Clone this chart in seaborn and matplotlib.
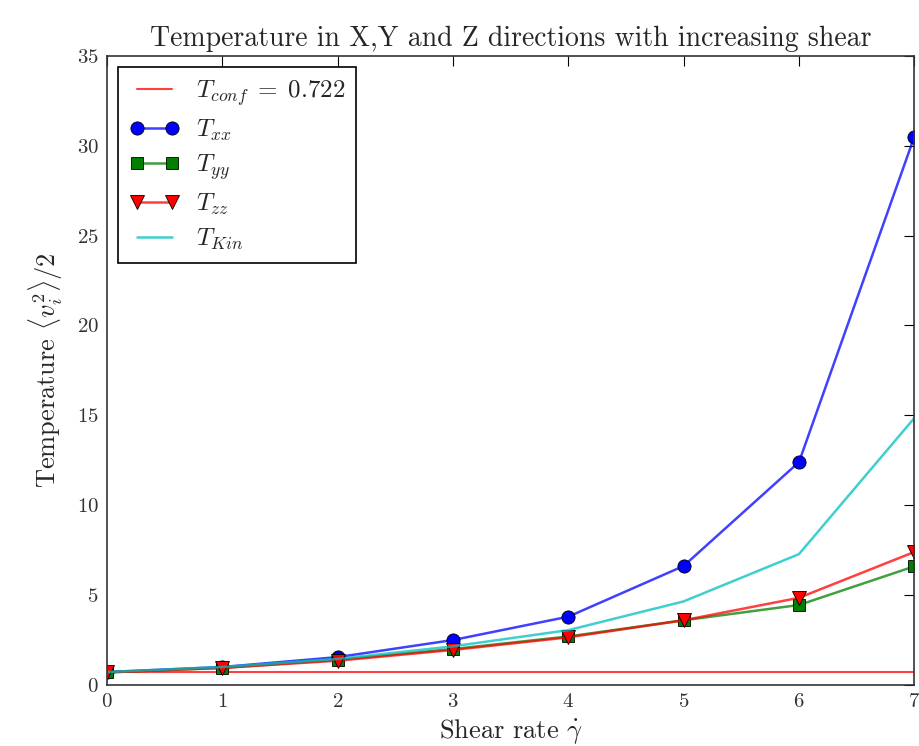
import seaborn as sns
import matplotlib.pyplot as plt

# shear rates and temperature components
shear = [0, 1, 2, 3, 4, 5, 6, 7]
t_conf = 0.722
t_xx = [0.72, 1.0, 1.55, 2.5, 3.8, 6.62, 12.4, 30.5]
t_yy = [0.70, 0.95, 1.40, 2.0, 2.7, 3.6, 4.45, 6.6]
t_zz = [0.70, 0.95, 1.35, 1.95, 2.65, 3.6, 4.85, 7.4]
t_kin = [0.72, 1.0, 1.45, 2.15, 3.05, 4.65, 7.28, 14.85]

sns.set_style("white", {
    "xtick.direction": "in", "ytick.direction": "in",
    "axes.edgecolor": "black",
})
plt.rcParams["font.family"] = "serif"
plt.rcParams["font.serif"] = ["cmr10", "DejaVu Serif"]
plt.rcParams["mathtext.fontset"] = "cm"
plt.rcParams["axes.formatter.use_mathtext"] = True
plt.rcParams["xtick.top"] = True
plt.rcParams["ytick.right"] = True

fig = plt.figure(figsize=(9.19, 7.46), dpi=100)
ax = fig.add_axes([0.1164, 0.0818, 0.8785, 0.8433])

sns.lineplot(x=[shear[0], shear[-1]], y=[t_conf, t_conf], ax=ax,
             color=(1, 0, 0, 0.75), linewidth=1.5,
             label=r"$T_{conf}\;=\;0.722$")
sns.lineplot(x=shear, y=t_xx, ax=ax, color=(0, 0, 1, 0.75), linewidth=1.8,
             marker="o", markersize=9.5, markerfacecolor="b",
             markeredgecolor="k", markeredgewidth=0.6, label=r"$T_{xx}$")
sns.lineplot(x=shear, y=t_yy, ax=ax, color=(0, 0.5, 0, 0.75), linewidth=1.8,
             marker="s", markersize=8.5, markerfacecolor="g",
             markeredgecolor="k", markeredgewidth=0.6, label=r"$T_{yy}$")
sns.lineplot(x=shear, y=t_zz, ax=ax, color=(1, 0, 0, 0.75), linewidth=1.8,
             marker="v", markersize=9.5, markerfacecolor="r",
             markeredgecolor="k", markeredgewidth=0.6, label=r"$T_{zz}$")
sns.lineplot(x=shear, y=t_kin, ax=ax, color=(0, 0.75, 0.75, 0.75),
             linewidth=1.8, label=r"$T_{Kin}$")

ax.set_xlim(0, 7)
ax.set_ylim(0, 35)
ax.set_xticks(range(0, 8))
ax.set_yticks(range(0, 36, 5))
ax.tick_params(labelsize=15, length=7, width=0.8, colors="black",
               labelcolor="#333333", pad=6)
for sp in ax.spines.values():
    sp.set_linewidth(1.2)
    sp.set_color("#333333")

ax.set_title("Temperature in X,Y and Z directions with increasing shear",
             fontsize=20, pad=7)
ax.set_xlabel(r"Shear rate $\dot{\gamma}$", fontsize=19, labelpad=5)
ax.set_ylabel(r"Temperature $\langle v_i^2\rangle/2$", fontsize=19,
              labelpad=8)

leg = ax.legend(loc="upper left", fontsize=18, numpoints=2, fancybox=False,
                framealpha=1, handlelength=2.0, borderpad=0.45,
                labelspacing=0.38, handletextpad=0.65, borderaxespad=0.45)
leg.get_frame().set_edgecolor("black")
leg.get_frame().set_linewidth(1.2)

fig.savefig("out.png", dpi=100)
